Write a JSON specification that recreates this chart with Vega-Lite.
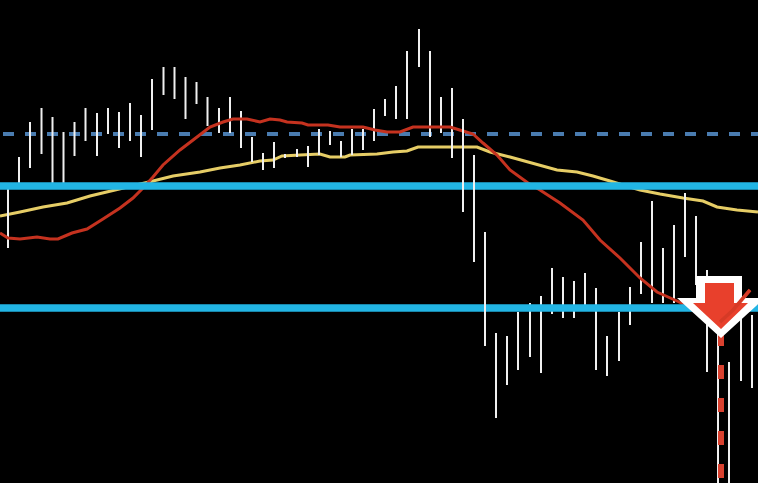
{"$schema":"https://vega.github.io/schema/vega-lite/v6.json","width":758,"height":483,"padding":0,"autosize":{"type":"none"},"background":"#000000","view":{"stroke":null},
"datasets":{
"bars":[{"x":8,"hi":189,"lo":248},{"x":19,"hi":157,"lo":183},{"x":30,"hi":122,"lo":168},{"x":41.5,"hi":108,"lo":154},{"x":52.5,"hi":117,"lo":183},{"x":63.5,"hi":132,"lo":183},{"x":74.5,"hi":122,"lo":156},{"x":85.5,"hi":108,"lo":141},{"x":97,"hi":113,"lo":156},{"x":108,"hi":108,"lo":134},{"x":119,"hi":112,"lo":148},{"x":130,"hi":103,"lo":141},{"x":141,"hi":115,"lo":157},{"x":152,"hi":79,"lo":130},{"x":163.5,"hi":67,"lo":95},{"x":174.5,"hi":67,"lo":99},{"x":185.5,"hi":77,"lo":119},{"x":196.5,"hi":82,"lo":104},{"x":207.5,"hi":97,"lo":126},{"x":219,"hi":108,"lo":133},{"x":230,"hi":97,"lo":133},{"x":241,"hi":111,"lo":148},{"x":252,"hi":137,"lo":162},{"x":263,"hi":153,"lo":170},{"x":274,"hi":142,"lo":168},{"x":285,"hi":154,"lo":158},{"x":297,"hi":149,"lo":157},{"x":308,"hi":146,"lo":167},{"x":319,"hi":129,"lo":155},{"x":330,"hi":131,"lo":145},{"x":341,"hi":141,"lo":157},{"x":352,"hi":129,"lo":155},{"x":363,"hi":129,"lo":150},{"x":374,"hi":109,"lo":141},{"x":385,"hi":99,"lo":116},{"x":396,"hi":86,"lo":119},{"x":407,"hi":51,"lo":119},{"x":419,"hi":29,"lo":67},{"x":430,"hi":51,"lo":137},{"x":441,"hi":97,"lo":133},{"x":452,"hi":88,"lo":158},{"x":463,"hi":119,"lo":212,"front":1},{"x":474,"hi":155,"lo":262,"front":1},{"x":485,"hi":232,"lo":346,"front":1},{"x":496,"hi":333,"lo":418},{"x":507,"hi":336,"lo":385},{"x":518,"hi":312,"lo":370},{"x":530,"hi":303,"lo":357},{"x":541,"hi":296,"lo":373},{"x":552,"hi":268,"lo":314},{"x":563,"hi":277,"lo":318},{"x":574,"hi":281,"lo":318},{"x":585,"hi":273,"lo":305},{"x":596,"hi":288,"lo":370},{"x":607,"hi":336,"lo":376},{"x":619,"hi":312,"lo":361},{"x":630,"hi":287,"lo":325},{"x":641,"hi":242,"lo":294},{"x":652,"hi":201,"lo":303},{"x":663,"hi":248,"lo":303},{"x":674,"hi":225,"lo":303},{"x":685,"hi":193,"lo":257},{"x":696,"hi":216,"lo":285},{"x":707,"hi":270,"lo":372},{"x":718,"hi":330,"lo":483},{"x":729,"hi":362,"lo":483},{"x":741,"hi":315,"lo":381},{"x":752,"hi":315,"lo":388}],
"fast":[{"x":0,"y":233},{"x":8,"y":238},{"x":20,"y":239},{"x":37,"y":237},{"x":50,"y":239},{"x":58,"y":239},{"x":72,"y":233},{"x":87,"y":229},{"x":103,"y":219},{"x":120,"y":208},{"x":133,"y":198},{"x":143,"y":188},{"x":153,"y":177},{"x":163,"y":165},{"x":180,"y":150},{"x":197,"y":137},{"x":210,"y":127},{"x":223,"y":122},{"x":233,"y":119},{"x":247,"y":119},{"x":260,"y":122},{"x":270,"y":119},{"x":280,"y":120},{"x":287,"y":122},{"x":302,"y":123},{"x":308,"y":125},{"x":328,"y":125},{"x":340,"y":127},{"x":363,"y":127},{"x":375,"y":130},{"x":387,"y":132},{"x":400,"y":132},{"x":413,"y":127},{"x":430,"y":127},{"x":450,"y":127},{"x":463,"y":131},{"x":473,"y":134},{"x":483,"y":143},{"x":497,"y":155},{"x":510,"y":170},{"x":528,"y":183},{"x":540,"y":190},{"x":560,"y":203},{"x":583,"y":220},{"x":600,"y":240},{"x":620,"y":258},{"x":640,"y":278},{"x":657,"y":292},{"x":677,"y":301},{"x":700,"y":312},{"x":720,"y":322},{"x":733,"y":310},{"x":750,"y":290}],
"slow":[{"x":0,"y":216},{"x":20,"y":212},{"x":43,"y":207},{"x":67,"y":203},{"x":90,"y":196},{"x":115,"y":190},{"x":153,"y":181},{"x":173,"y":176},{"x":200,"y":172},{"x":220,"y":168},{"x":240,"y":165},{"x":260,"y":161},{"x":273,"y":160},{"x":282,"y":156},{"x":300,"y":155},{"x":320,"y":154},{"x":330,"y":157},{"x":345,"y":157},{"x":350,"y":155},{"x":377,"y":154},{"x":393,"y":152},{"x":407,"y":151},{"x":418,"y":147},{"x":437,"y":147},{"x":450,"y":147},{"x":477,"y":147},{"x":490,"y":152},{"x":510,"y":157},{"x":557,"y":170},{"x":577,"y":172},{"x":593,"y":176},{"x":610,"y":181},{"x":623,"y":185},{"x":640,"y":190},{"x":660,"y":194},{"x":683,"y":198},{"x":703,"y":201},{"x":717,"y":207},{"x":737,"y":210},{"x":758,"y":212}],
"levels":[{"y":186},{"y":308}],
"dashlevel":[{"y":134}],
"signal":[{"x":721,"y":300,"yEnd":483,"yStart":332}]
},
"encoding":{},
"layer":[
{"data":{"name":"dashlevel"},"mark":{"type":"rule","stroke":"#4a7cb0","strokeWidth":4,"strokeDash":[11,11],"strokeDashOffset":4},"encoding":{"y":{"field":"y","type":"quantitative","scale":{"domain":[0,483],"reverse":true,"nice":false,"zero":false},"axis":null}}},
{"data":{"name":"slow"},"mark":{"type":"line","stroke":"#e6cd66","strokeWidth":3},"encoding":{"x":{"field":"x","type":"quantitative","scale":{"domain":[0,758],"nice":false,"zero":false},"axis":null},"y":{"field":"y","type":"quantitative","scale":{"domain":[0,483],"reverse":true,"nice":false,"zero":false},"axis":null}}},
{"data":{"name":"bars"},"transform":[{"filter":"!datum.front"}],"mark":{"type":"rule","stroke":"#f0f0f0","strokeWidth":2},"encoding":{"x":{"field":"x","type":"quantitative","scale":{"domain":[0,758],"nice":false,"zero":false},"axis":null},"y":{"field":"hi","type":"quantitative","scale":{"domain":[0,483],"reverse":true,"nice":false,"zero":false},"axis":null},"y2":{"field":"lo"}}},
{"data":{"name":"fast"},"mark":{"type":"line","stroke":"#c5321f","strokeWidth":3},"encoding":{"x":{"field":"x","type":"quantitative","scale":{"domain":[0,758],"nice":false,"zero":false},"axis":null},"y":{"field":"y","type":"quantitative","scale":{"domain":[0,483],"reverse":true,"nice":false,"zero":false},"axis":null}}},
{"data":{"name":"levels"},"mark":{"type":"rule","stroke":"#22b5e4","strokeWidth":7.5},"encoding":{"y":{"field":"y","type":"quantitative","scale":{"domain":[0,483],"reverse":true,"nice":false,"zero":false},"axis":null}}},
{"data":{"name":"bars"},"transform":[{"filter":"datum.front"}],"mark":{"type":"rule","stroke":"#f0f0f0","strokeWidth":2},"encoding":{"x":{"field":"x","type":"quantitative","scale":{"domain":[0,758],"nice":false,"zero":false},"axis":null},"y":{"field":"hi","type":"quantitative","scale":{"domain":[0,483],"reverse":true,"nice":false,"zero":false},"axis":null},"y2":{"field":"lo"}}},
{"data":{"name":"signal"},"mark":{"type":"rule","stroke":"#d9412f","strokeWidth":6,"strokeDash":[14,19]},"encoding":{"x":{"field":"x","type":"quantitative","scale":{"domain":[0,758],"nice":false,"zero":false},"axis":null},"y":{"field":"yStart","type":"quantitative","scale":{"domain":[0,483],"reverse":true,"nice":false,"zero":false},"axis":null},"y2":{"field":"yEnd"}}},
{"data":{"name":"signal"},"mark":{"type":"point","filled":true,"fill":"#ffffff","stroke":null,"opacity":1,"size":4,"shape":"M-25,-24L21,-24L21,-2L44,-2L0,38L-44,-2L-25,-2Z"},"encoding":{"x":{"field":"x","type":"quantitative","scale":{"domain":[0,758],"nice":false,"zero":false},"axis":null},"y":{"field":"y","type":"quantitative","scale":{"domain":[0,483],"reverse":true,"nice":false,"zero":false},"axis":null}}},
{"data":{"name":"signal"},"mark":{"type":"point","filled":true,"fill":"#e8402c","stroke":null,"opacity":1,"size":4,"shape":"M-16,-17L13,-17L13,3L27,3L0,29L-28,3L-16,3Z"},"encoding":{"x":{"field":"x","type":"quantitative","scale":{"domain":[0,758],"nice":false,"zero":false},"axis":null},"y":{"field":"y","type":"quantitative","scale":{"domain":[0,483],"reverse":true,"nice":false,"zero":false},"axis":null}}},
{"data":{"name":"fast"},"transform":[{"filter":"datum.x >= 720"}],"mark":{"type":"line","stroke":"#d63a26","strokeWidth":3.5},"encoding":{"x":{"field":"x","type":"quantitative","scale":{"domain":[0,758],"nice":false,"zero":false},"axis":null},"y":{"field":"y","type":"quantitative","scale":{"domain":[0,483],"reverse":true,"nice":false,"zero":false},"axis":null}}}
]}
